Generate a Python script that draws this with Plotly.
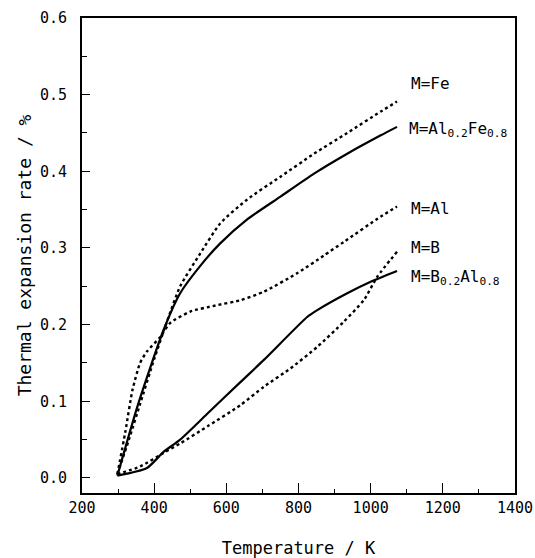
import plotly.graph_objects as go

# ---- data ----
fe_T = [298, 330, 360, 400, 440, 472, 528, 583, 657, 750, 843, 935, 1028, 1073]
fe_v = [0.005, 0.05, 0.095, 0.155, 0.21, 0.25, 0.293, 0.332, 0.363, 0.393, 0.423, 0.45, 0.478, 0.491]

alfe_T = [298, 356, 426, 472, 530, 583, 657, 750, 843, 935, 1028, 1073]
alfe_v = [0.003, 0.097, 0.193, 0.241, 0.278, 0.306, 0.337, 0.367, 0.397, 0.423, 0.447, 0.458]

al_T = [298, 320, 340, 361, 380, 417, 444, 500, 570, 640, 704, 796, 870, 926, 1028, 1073]
al_v = [0.005, 0.06, 0.115, 0.150, 0.165, 0.184, 0.202, 0.217, 0.225, 0.232, 0.243, 0.267, 0.29, 0.308, 0.341, 0.354]

b_T = [298, 361, 431, 472, 550, 639, 704, 778, 852, 926, 981, 1019, 1073]
b_v = [0.005, 0.015, 0.034, 0.045, 0.068, 0.095, 0.119, 0.143, 0.171, 0.204, 0.232, 0.263, 0.295]

bal_T = [298, 380, 426, 472, 550, 639, 704, 824, 852, 935, 1000, 1073]
bal_v = [0.003, 0.013, 0.034, 0.05, 0.085, 0.125, 0.154, 0.21, 0.219, 0.241, 0.256, 0.27]

series = [
    ("M=Fe", fe_T, fe_v, "dot"),
    ("M=Al<sub>0.2</sub>Fe<sub>0.8</sub>", alfe_T, alfe_v, "solid"),
    ("M=Al", al_T, al_v, "dot"),
    ("M=B", b_T, b_v, "dot"),
    ("M=B<sub>0.2</sub>Al<sub>0.8</sub>", bal_T, bal_v, "solid"),
]

label_T = [1106, 1100, 1106, 1106, 1106]
label_v = [0.515, 0.455, 0.351, 0.301, 0.261]

x_ticks = [200, 400, 600, 800, 1000, 1200, 1400]
y_ticks = [0.0, 0.1, 0.2, 0.3, 0.4, 0.5, 0.6]

MONO = "DejaVu Sans Mono, Liberation Mono, monospace"

fig = go.Figure()
for name, T, v, dash in series:
    fig.add_trace(go.Scatter(
        x=T, y=v, mode="lines", name=name,
        line=dict(color="black", width=2.2 if dash == "solid" else 2.4, dash=dash,
                  shape="spline", smoothing=0.6),
        showlegend=False,
    ))

for (name, *_), lx, ly in zip(series, label_T, label_v):
    fig.add_annotation(x=lx, y=ly, xref="x", yref="y", text=name, showarrow=False,
                       xanchor="left", yanchor="middle",
                       font=dict(family=MONO, size=16, color="black"))

fig.update_xaxes(
    range=[200, 1400], tickvals=x_ticks, ticktext=[str(t) for t in x_ticks],
    ticks="inside", ticklen=10, tickwidth=1.2, tickcolor="black",
    minor=dict(dtick=100, ticks="inside", ticklen=4, tickcolor="black", tickwidth=1),
    showline=True, linecolor="black", linewidth=2, mirror=True,
    showgrid=False, zeroline=False, automargin=False,
    title=dict(text="Temperature / K", font=dict(family=MONO, size=17, color="black"), standoff=30),
    tickfont=dict(family=MONO, size=15, color="black"),
)
fig.update_yaxes(
    range=[-0.0196, 0.6], tickvals=y_ticks, ticktext=[f"{t:.1f}" for t in y_ticks],
    ticks="inside", ticklen=8, tickwidth=1.2, tickcolor="black",
    minor=dict(dtick=0.05, tick0=0, ticks="inside", ticklen=5, tickcolor="black", tickwidth=1),
    showline=True, linecolor="black", linewidth=2, mirror=True,
    showgrid=False, zeroline=False, automargin=False,
    ticklabelstandoff=10,
    title=dict(text="Thermal expansion rate / %", font=dict(family=MONO, size=18, color="black"), standoff=4),
    tickfont=dict(family=MONO, size=15, color="black"),
)

fig.update_layout(
    width=535, height=558,
    margin=dict(l=82, r=20, t=18, b=65),
    plot_bgcolor="white", paper_bgcolor="white",
)

fig.write_html("out.html")
